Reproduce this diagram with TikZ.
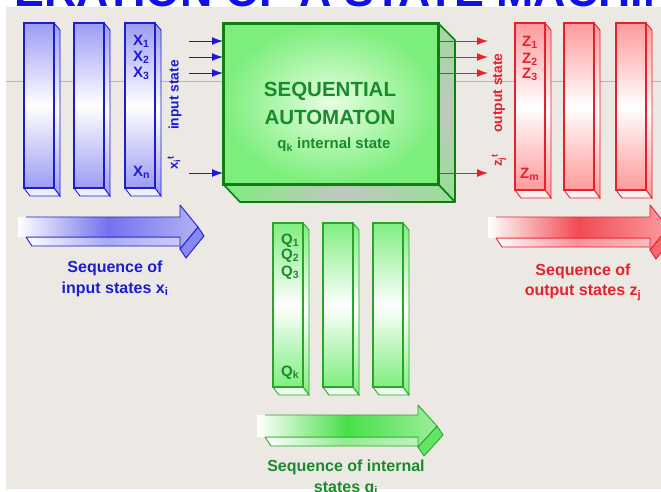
\documentclass[tikz,border=0pt]{standalone}
\usepackage{fontspec}
\setmainfont{Liberation Sans}
\usetikzlibrary{arrows.meta}

\definecolor{paper}{HTML}{ECE9E4}
\definecolor{rulecol}{HTML}{C8B48E}
\definecolor{titleblue}{HTML}{1010E8}
\definecolor{inblue}{HTML}{1C1CD0}
\definecolor{inbluefill}{HTML}{9C9CF4}
\definecolor{inbluemid}{HTML}{7272EE}
\definecolor{outred}{HTML}{E8202C}
\definecolor{outredfill}{HTML}{FF9A9A}
\definecolor{outredmid}{HTML}{F24A52}
\definecolor{qgreen}{HTML}{2AA52A}
\definecolor{qgreenfill}{HTML}{80EE80}
\definecolor{qgreenmid}{HTML}{48E048}
\definecolor{qtext}{HTML}{1B8A2C}
\definecolor{boxline}{HTML}{0F7D12}
\definecolor{boxfill}{HTML}{7CEE7C}
\definecolor{boxcore}{HTML}{E6FFE0}
\definecolor{boxshade}{HTML}{BFC8BF}

% one upright slab: front-left x, top y, bottom y, fill colour, line colour
\newcommand\colbar[5]{%
  \shadedraw[top color=#4, bottom color=#4, middle color=white, draw=#5, line width=0.9pt]
    (#1+30,#2) -- (#1+36,#2+7) -- (#1+36,#3+8) -- (#1+30,#3) -- cycle;
  \filldraw[fill=#4!15!white, draw=#5, line width=0.9pt]
    (#1,#3) -- (#1+30,#3) -- (#1+36,#3+8) -- (#1+6,#3+8) -- cycle;
  \shadedraw[top color=#4, bottom color=#4, middle color=white, draw=#5, line width=1.2pt]
    (#1,#2) rectangle (#1+30,#3);
}

% block arrow: x0, x1, shaft top, shaft bottom, head top, tip x, middle colour, line colour
\newcommand\seqarrow[8]{%
  \shadedraw[left color=white, right color=#7!35!white, middle color=#7!60!white, draw=#8, line width=0.9pt]
    (#1+8,#4) -- (#2,#4) -- (#2+6,#4+9) -- (#1+14,#4+9) -- cycle;
  \filldraw[fill=#7!85!white, draw=#8, line width=0.9pt]
    (#6,{(#3+#4)/2}) -- (#2,{#3+#4-#5}) -- (#2+6,{#3+#4-#5+9}) -- (#6+6,{(#3+#4)/2+9}) -- cycle;
  \shade[left color=white, right color=#7!55!white, middle color=#7]
    (#1,#3) -- (#2,#3) -- (#2,#5) -- (#6,{(#3+#4)/2}) -- (#2,{#3+#4-#5}) -- (#2,#4) -- (#1,#4) -- cycle;
  \draw[#8, line width=0.9pt, line join=round]
    (#1+8,#3) -- (#2,#3) -- (#2,#5) -- (#6,{(#3+#4)/2}) -- (#2,{#3+#4-#5}) -- (#2,#4) -- (#1+8,#4);
}

\tikzset{
  lbl/.style={inner sep=0pt, font=\bfseries\fontsize{15}{17}\selectfont},
  side/.style={inner sep=0pt, rotate=90, font=\bfseries\fontsize{13.8}{16}\selectfont},
  seqtext/.style={inner sep=0pt, align=center, font=\bfseries\fontsize{16}{20.5}\selectfont},
  inarrow/.style={inblue, line width=1pt, -{Latex[length=11pt,width=8pt]}},
  outarrow/.style={outred, line width=1pt, -{Latex[length=11pt,width=8pt]}},
}

\begin{document}
\begin{tikzpicture}[x=1pt,y=-1pt]
\useasboundingbox (0,0) rectangle (661,491);
\clip (0,0) rectangle (661,491);
\fill[white] (0,0) rectangle (661,491);
\fill[paper] (6,7) rectangle (661,489);

% heading, cut by the page edge
\node[anchor=base west, inner sep=0pt, titleblue,
      font=\bfseries\fontsize{44.7}{52}\selectfont] (title) at (-50,6) {OPERATION OF A STATE MACHINE};

% thin guide line across the sheet
\draw[rulecol, line width=0.8pt] (6,81) -- (661,81);

% input state columns
\colbar{24}{23}{188}{inbluefill}{inblue}
\colbar{74}{23}{188}{inbluefill}{inblue}
\colbar{125}{23}{188}{inbluefill}{inblue}
\node[lbl, inblue, anchor=base west] (x1) at (133,45) {X\textsubscript{1}};
\node[lbl, inblue, anchor=base west] (x2) at (133,61) {X\textsubscript{2}};
\node[lbl, inblue, anchor=base west] (x3) at (133,77) {X\textsubscript{3}};
\node[lbl, inblue, anchor=base west] (xn) at (133,176) {X\textsubscript{n}};

% output state columns
\colbar{515}{23}{190}{outredfill}{outred}
\colbar{564}{23}{190}{outredfill}{outred}
\colbar{616}{23}{190}{outredfill}{outred}
\node[lbl, outred, anchor=base west] (z1) at (522,46) {Z\textsubscript{1}};
\node[lbl, outred, anchor=base west] (z2) at (522,63) {Z\textsubscript{2}};
\node[lbl, outred, anchor=base west] (z3) at (522,78) {Z\textsubscript{3}};
\node[lbl, outred, anchor=base west] (zm) at (520,178) {Z\textsubscript{m}};

% internal state columns
\colbar{273}{223}{387}{qgreenfill}{qgreen}
\colbar{323}{223}{387}{qgreenfill}{qgreen}
\colbar{373}{223}{387}{qgreenfill}{qgreen}
\node[lbl, qtext, anchor=base west] (q1) at (281,244) {Q\textsubscript{1}};
\node[lbl, qtext, anchor=base west] (q2) at (281,259) {Q\textsubscript{2}};
\node[lbl, qtext, anchor=base west] (q3) at (281,276) {Q\textsubscript{3}};
\node[lbl, qtext, anchor=base west] (qk) at (281,376) {Q\textsubscript{k}};

% the automaton block: side, underside, front
\shadedraw[top color=boxfill!50!boxshade, bottom color=boxfill!70!boxshade, middle color=boxshade,
           draw=boxline, line width=1.6pt, line join=round]
  (438,23) -- (455,40) -- (455,202) -- (438,184) -- cycle;
\shadedraw[left color=boxfill, right color=boxfill!60!boxshade, middle color=boxshade,
           draw=boxline, line width=1.6pt, line join=round]
  (223,184) -- (438,184) -- (455,202) -- (240,202) -- cycle;
\node[draw=boxline, line width=3pt, inner sep=0pt, outer sep=0pt,
      inner color=boxcore, outer color=boxfill,
      minimum width=215pt, minimum height=161pt] (auto) at (330.5,103.5) {};
\node[inner sep=0pt, qtext, font=\bfseries\fontsize{20.5}{24}\selectfont] (t1) at (330,91) {SEQUENTIAL};
\node[inner sep=0pt, qtext, font=\bfseries\fontsize{20.5}{24}\selectfont] (t2) at (330,117) {AUTOMATON};
\node[inner sep=0pt, qtext, font=\bfseries\fontsize{15}{18}\selectfont] (t3) at (334,145) {q\textsubscript{k} internal state};

% input signals
\coordinate (in1) at (189,41);
\coordinate (in2) at (189,57);
\coordinate (in3) at (189,73);
\coordinate (in4) at (189,173);
\foreach \k in {1,...,4} \draw[inarrow] (in\k) -- (auto.west |- in\k);
\node[side, inblue] (inlab) at (175,95) {input state};
\node[side, inblue, font=\bfseries\fontsize{13}{15}\selectfont] (xit) at (174,163) {x\textsubscript{i}\textsuperscript{t}};

% output signals
\coordinate (out1) at (488,41);
\coordinate (out2) at (488,57);
\coordinate (out3) at (488,73);
\coordinate (out4) at (488,173);
\foreach \k in {1,...,4} \draw[outarrow] (auto.east |- out\k) -- (out\k);
\node[side, outred] (outlab) at (499,93) {output state};
\node[side, outred, font=\bfseries\fontsize{13}{15}\selectfont] (zjt) at (499,160) {z\textsubscript{j}\textsuperscript{t}};

% sequence arrows and captions
\seqarrow{18}{180}{217}{237}{205}{198}{inbluemid}{inblue}
\node[seqtext, inblue] (inseq) at (115,279) {Sequence of\\input states x\textsubscript{i}};

\seqarrow{488}{650}{217}{238}{205}{668}{outredmid}{outred}
\node[seqtext, outred] (outseq) at (583,282) {Sequence of\\output states z\textsubscript{j}};

\seqarrow{257}{418}{415}{437}{405}{437}{qgreenmid}{qgreen}
\node[seqtext, qtext] (qseq) at (346,478) {Sequence of internal\\states q\textsubscript{i}};
\end{tikzpicture}
\end{document}
